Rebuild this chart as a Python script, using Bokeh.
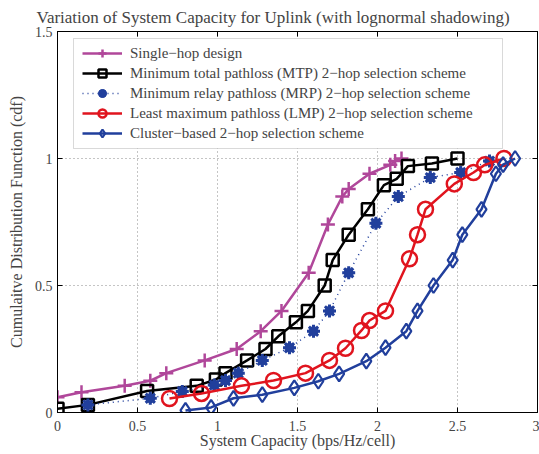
from bokeh.plotting import figure
from bokeh.models import Range1d, LinearAxis, FixedTicker, Legend, LegendItem, BoxAnnotation
from bokeh.embed import file_html
from bokeh.resources import INLINE

# ---- data ----
x_ticks = [0, 0.5, 1, 1.5, 2, 2.5, 3]
x_tick_labels = ["0", "0.5", "1", "1.5", "2", "2.5", "3"]
y_ticks = [0, 0.5, 1, 1.5]
y_tick_labels = ["0", "0.5", "1", "1.5"]

single_x = [0, 0.15, 0.42, 0.58, 0.68, 0.92, 1.12, 1.27, 1.40, 1.57, 1.69, 1.78, 1.82, 1.95, 2.08, 2.11, 2.15]
single_y = [0.06, 0.08, 0.105, 0.125, 0.155, 0.205, 0.25, 0.32, 0.40, 0.55, 0.74, 0.85, 0.88, 0.94, 0.975, 0.99, 1.0]

mtp_x = [0, 0.19, 0.56, 0.87, 0.99, 1.05, 1.185, 1.30, 1.38, 1.49, 1.565, 1.67, 1.72, 1.82, 1.94, 2.04, 2.12, 2.19, 2.34, 2.50]
mtp_y = [0.015, 0.03, 0.085, 0.105, 0.13, 0.155, 0.205, 0.25, 0.30, 0.355, 0.40, 0.50, 0.60, 0.70, 0.80, 0.895, 0.92, 0.97, 0.98, 1.0]

mrp_x = [0.19, 0.58, 0.78, 0.98, 1.05, 1.13, 1.28, 1.45, 1.60, 1.70, 1.82, 1.99, 2.13, 2.33, 2.52, 2.70]
mrp_y = [0.03, 0.056, 0.083, 0.108, 0.126, 0.155, 0.205, 0.255, 0.32, 0.40, 0.55, 0.745, 0.85, 0.925, 0.945, 0.99]

lmp_x = [0.70, 0.90, 1.15, 1.35, 1.55, 1.70, 1.80, 1.90, 1.95, 2.05, 2.20, 2.25, 2.30, 2.48, 2.60, 2.67, 2.79]
lmp_y = [0.055, 0.075, 0.105, 0.126, 0.155, 0.205, 0.253, 0.323, 0.362, 0.40, 0.605, 0.70, 0.80, 0.90, 0.945, 0.975, 1.0]

cl_x = [0.80, 0.96, 1.10, 1.28, 1.48, 1.63, 1.76, 1.93, 2.05, 2.18, 2.25, 2.35, 2.47, 2.53, 2.65, 2.74, 2.785, 2.86]
cl_y = [0.008, 0.02, 0.056, 0.07, 0.097, 0.123, 0.152, 0.202, 0.255, 0.32, 0.40, 0.50, 0.60, 0.70, 0.80, 0.94, 0.976, 1.0]

labels = [
    "Single\u2212hop design",
    "Minimum total pathloss (MTP) 2\u2212hop selection scheme",
    "Minimum relay pathloss (MRP) 2\u2212hop selection scheme",
    "Least maximum pathloss (LMP) 2\u2212hop selection scheme",
    "Cluster\u2212based 2\u2212hop selection scheme",
]

FONT = "Liberation Serif"
MAG = "#b0479a"
BLK = "#000000"
BLU = "#213f9c"
RED = "#e0141e"

p = figure(width=539, height=454, output_backend="svg", toolbar_location=None,
           x_range=Range1d(0, 3), y_range=Range1d(0, 1.5),
           min_border_left=57, min_border_right=2, min_border_top=31, min_border_bottom=42)

p.title.text = "Variation of System Capacity for Uplink (with lognormal shadowing)"
p.title.text_font = FONT
p.title.text_font_size = "17px"
p.title.text_font_style = "normal"
p.title.align = "left"
p.title.offset = -21
p.title.standoff = 5
p.title.vertical_align = "top"

p.outline_line_color = "black"
p.outline_line_width = 1
p.background_fill_color = "white"
p.border_fill_color = "white"

# axes
for ax in (p.xaxis[0], p.yaxis[0]):
    ax.major_tick_in = 5
    ax.major_tick_out = 0
    ax.minor_tick_line_color = None
    ax.axis_line_color = "black"
    ax.major_label_text_font = FONT
    ax.major_label_text_font_size = "14px"
    ax.axis_label_text_font = FONT
    ax.axis_label_text_font_size = "16px"
    ax.axis_label_text_font_style = "normal"
p.xaxis[0].ticker = FixedTicker(ticks=x_ticks)
p.xaxis[0].major_label_overrides = dict(zip(x_ticks, x_tick_labels))
p.yaxis[0].ticker = FixedTicker(ticks=y_ticks)
p.yaxis[0].major_label_overrides = dict(zip(y_ticks, y_tick_labels))
p.xaxis[0].axis_label = "System Capacity (bps/Hz/cell)"
p.yaxis[0].axis_label = "Cumulaitve Distribution Function (cdf)"
p.xaxis[0].major_label_standoff = 8
p.xaxis[0].axis_label_standoff = -2
p.yaxis[0].major_label_standoff = 5
p.yaxis[0].axis_label_standoff = 7

top = LinearAxis(ticker=FixedTicker(ticks=x_ticks), major_tick_in=5, major_tick_out=0,
                 minor_tick_line_color=None, major_label_text_font_size="1px",
                 major_label_text_color=None, major_label_standoff=0)
right = LinearAxis(ticker=FixedTicker(ticks=y_ticks), major_tick_in=5, major_tick_out=0,
                   minor_tick_line_color=None, major_label_text_font_size="1px",
                   major_label_text_color=None, major_label_standoff=0)
p.add_layout(top, "above")
p.add_layout(right, "right")

p.xgrid.ticker = FixedTicker(ticks=[0.5, 1, 1.5, 2, 2.5])
p.ygrid.ticker = FixedTicker(ticks=[0.5, 1])
p.grid.grid_line_color = "#8a8a8a"
p.grid.grid_line_dash = "1 3"
p.grid.grid_line_width = 1

# series
l1 = p.line(single_x, single_y, line_color=MAG, line_width=2.5)
m1 = p.scatter(single_x, single_y, marker="cross", size=14, line_color=MAG, line_width=2.5)

l2 = p.line(mtp_x, mtp_y, line_color=BLK, line_width=2.5)
m2 = p.scatter(mtp_x, mtp_y, marker="square", size=12, line_color=BLK, line_width=2.5, fill_alpha=0)

l3 = p.line(mrp_x, mrp_y, line_color=BLU, line_width=1.5, line_dash="1 4")
m3 = p.scatter(mrp_x, mrp_y, marker="circle", size=9, line_color=BLU, fill_color=BLU, line_width=1)
m3b = p.scatter(mrp_x, mrp_y, marker="asterisk", size=13, line_color=BLU, line_width=3)

l4 = p.line(lmp_x, lmp_y, line_color=RED, line_width=2.5)
m4 = p.scatter(lmp_x, lmp_y, marker="circle", size=15, line_color=RED, line_width=2.5, fill_alpha=0)

l5 = p.line(cl_x, cl_y, line_color=BLU, line_width=2.5)
m5 = p.scatter(cl_x, cl_y, marker="diamond", size=15, line_color=BLU, line_width=2.2, fill_alpha=0)

# legend frame (wider than the label text, as in the reference)
box = BoxAnnotation(left=73, right=502, top=38, bottom=148,
                    left_units="canvas", right_units="canvas",
                    top_units="canvas", bottom_units="canvas",
                    fill_color="white", fill_alpha=1,
                    line_color="#808080", line_width=1, level="annotation")
p.add_layout(box)

items = [
    LegendItem(label=labels[0], renderers=[l1, m1]),
    LegendItem(label=labels[1], renderers=[l2, m2]),
    LegendItem(label=labels[2], renderers=[l3, m3, m3b]),
    LegendItem(label=labels[3], renderers=[l4, m4]),
    LegendItem(label=labels[4], renderers=[l5, m5]),
]
legend = Legend(items=items, location=(25, 269), padding=0, spacing=0,
                glyph_width=40, glyph_height=20, label_height=20,
                label_standoff=8, label_text_font=FONT, label_text_font_size="15px",
                border_line_color=None, background_fill_alpha=0,
                margin=0)
p.add_layout(legend, "center")

open("out.html", "w").write(file_html(p, INLINE))
